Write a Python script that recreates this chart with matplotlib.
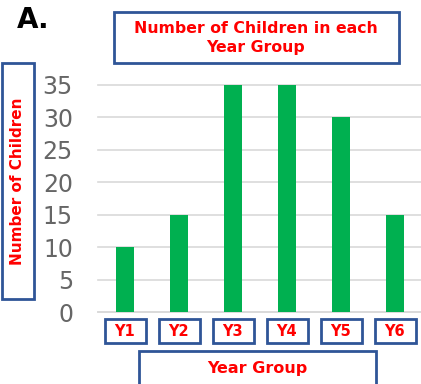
import matplotlib
matplotlib.use("Agg")
import matplotlib.pyplot as plt
from matplotlib.patches import Rectangle

categories = ["Y1", "Y2", "Y3", "Y4", "Y5", "Y6"]
children = [10, 15, 35, 35, 30, 15]
yticks = [0, 5, 10, 15, 20, 25, 30, 35]

W, H = 421, 384
RED = "#FF0000"
BLUE = "#2F5597"
GREEN = "#00B050"

fig = plt.figure(figsize=(W / 100, H / 100), dpi=100)
fig.patch.set_facecolor("white")


def fx(px):
    return px / W


def fy(py):
    return 1 - py / H


def box(x0, y0, x1, y1):
    fig.add_artist(Rectangle((fx(x0), fy(y1)), fx(x1) - fx(x0), fy(y0) - fy(y1),
                             transform=fig.transFigure, fill=False,
                             edgecolor=BLUE, linewidth=2.0, clip_on=False))


# plot area
ax = fig.add_axes([fx(98), fy(312), fx(422) - fx(98), fy(85) - fy(312)])
x = range(len(categories))
ax.bar(x, children, width=0.32, color=GREEN, zorder=3)
ax.set_xlim(-0.5, len(categories) - 0.5)
ax.set_ylim(0, 35)
ax.set_yticks(yticks)
ax.set_yticklabels([str(v) for v in yticks], fontsize=17, color="#666666")
ax.tick_params(axis="y", length=0, pad=18)
ax.set_xticks([])
ax.grid(axis="y", color="#D9D9D9", linewidth=1.2, zorder=0)
for s in ["top", "right", "left"]:
    ax.spines[s].set_visible(False)
ax.spines["bottom"].set_color("#D9D9D9")
ax.spines["bottom"].set_linewidth(1.2)
for gl in ax.get_ygridlines():
    gl.set_clip_on(False)

# category label boxes
for i, name in enumerate(categories):
    cx = ax.transData.transform((i, 0))[0]
    box(cx - 20.5, 319, cx + 20.5, 343)
    fig.text(fx(cx), fy(331), name, ha="center", va="center",
             color=RED, fontsize=10.5, fontweight="bold")

# axis title boxes
box(139, 351, 376, 390)
fig.text(fx(257), fy(368), "Year Group", ha="center", va="center",
         color=RED, fontsize=11.5, fontweight="bold")

box(2, 63, 34, 299)
fig.text(fx(18), fy(181), "Number of Children", ha="center", va="center",
         rotation=90, color=RED, fontsize=11, fontweight="bold")

# chart title
box(114, 12, 399, 63)
fig.text(fx(256), fy(38), "Number of Children in each\nYear Group", ha="center",
         va="center", color=RED, fontsize=11.3, fontweight="bold", linespacing=1.3)

fig.text(fx(17), fy(20), "A.", ha="left", va="center", color="black",
         fontsize=20, fontweight="bold")

fig.savefig("out.png", dpi=100)
